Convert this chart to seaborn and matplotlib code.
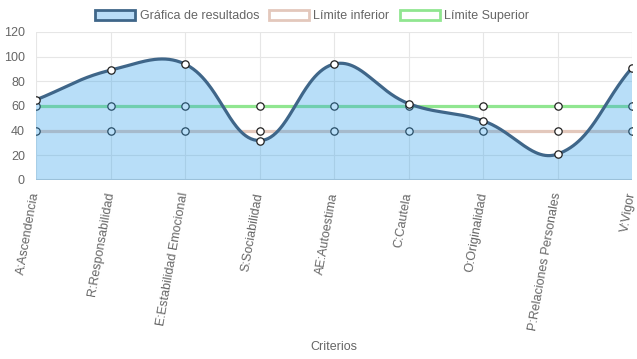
#!/usr/bin/env python3

import numpy as np                  # numeric helpers
import matplotlib
matplotlib.use('Agg')
import matplotlib.pyplot as plt     # visual plotting of data
import seaborn as sns               # visual plotting of data
from matplotlib.patches import Patch


# Chart data
criterios = ['A:Ascendencia', 'R:Responsabilidad', 'E:Estabilidad Emocional',
             'S:Sociabilidad', 'AE:Autoestima', 'C:Cautela', 'O:Originalidad',
             'P:Relaciones Personales', 'V:Vigor']
resultados = [65, 89, 94, 32, 94, 62, 48, 21, 91]
limite_inferior = [40, 40, 40, 40, 40, 40, 40, 40, 40]
limite_superior = [60, 60, 60, 60, 60, 60, 60, 60, 60]

# Colours
LINE_RES = '#3f6689'
FILL_RES = (54 / 255, 162 / 255, 235 / 255, 0.35)
LINE_INF = '#e3c8bc'
LINE_SUP = '#90e690'
GRID = '#e6e6e6'


def spline(xs, ys, sx, sy, tension=0.4, ymin=0, ymax=120, steps=60):
    """
    Bezier curve like the one the web chart draws (tension 0.4),
    control points worked out in pixel space.
    """
    px = np.array(xs, dtype=float) * sx
    py = np.array(ys, dtype=float) * sy
    n = len(px)
    cp_prev, cp_next = [], []
    for i in range(n):
        p0 = (px[i - 1], py[i - 1]) if i > 0 else (px[i], py[i])
        p1 = (px[i], py[i])
        p2 = (px[i + 1], py[i + 1]) if i < n - 1 else (px[i], py[i])
        d01 = np.hypot(p1[0] - p0[0], p1[1] - p0[1])
        d12 = np.hypot(p2[0] - p1[0], p2[1] - p1[1])
        tot = d01 + d12
        s01 = d01 / tot if tot else 0
        s12 = d12 / tot if tot else 0
        fa, fb = tension * s01, tension * s12
        cpp = [p1[0] - fa * (p2[0] - p0[0]), p1[1] - fa * (p2[1] - p0[1])]
        cpn = [p1[0] + fb * (p2[0] - p0[0]), p1[1] + fb * (p2[1] - p0[1])]
        for c in (cpp, cpn):
            c[0] = min(max(c[0], px[0]), px[-1])
            c[1] = min(max(c[1], ymin * sy), ymax * sy)
        cp_prev.append(cpp)
        cp_next.append(cpn)

    t = np.linspace(0, 1, steps)[:, None]
    out = []
    for i in range(n - 1):
        b0 = np.array([px[i], py[i]])
        b1 = np.array(cp_next[i])
        b2 = np.array(cp_prev[i + 1])
        b3 = np.array([px[i + 1], py[i + 1]])
        seg = ((1 - t) ** 3) * b0 + 3 * ((1 - t) ** 2) * t * b1 \
            + 3 * (1 - t) * t ** 2 * b2 + t ** 3 * b3
        out.append(seg if i == 0 else seg[1:])
    curve = np.vstack(out)
    return curve[:, 0] / sx, curve[:, 1] / sy


def plot_chart():
    sns.set_theme(style='white')
    plt.rcParams['font.family'] = ['Liberation Sans', 'DejaVu Sans']

    fig = plt.figure(figsize=(6.37, 3.59), dpi=100)
    ax = fig.add_axes([36 / 637, 1 - 180 / 359, 596 / 637, 148 / 359])

    x = np.arange(len(criterios))

    # Limit lines sit under the filled area
    sns.lineplot(x=x, y=limite_inferior, ax=ax, color=LINE_INF, lw=2.3, zorder=2)
    sns.lineplot(x=x, y=limite_superior, ax=ax, color=LINE_SUP, lw=2.3, zorder=2)
    for vals in (limite_inferior, limite_superior):
        sns.scatterplot(x=x, y=vals, ax=ax, s=28, color='white',
                        edgecolor='#222222', linewidth=0.9, zorder=3)

    # Results curve with fill to zero
    cx, cy = spline(x, resultados, 596 / 8, 148 / 120)
    ax.fill(np.concatenate([cx, [x[-1], x[0]]]),
            np.concatenate([cy, [0, 0]]),
            color=FILL_RES, lw=0, zorder=4)
    ax.plot(cx, cy, color=LINE_RES, lw=2.3, zorder=5, solid_capstyle='round')
    sns.scatterplot(x=x, y=resultados, ax=ax, s=28, color='white',
                    edgecolor='#222222', linewidth=0.9, zorder=6)

    ax.axhline(0, color='#d2d2d2', lw=1.5, zorder=1)

    ax.set_xlim(0, len(criterios) - 1)
    ax.set_ylim(0, 120)
    ax.set_yticks(range(0, 121, 20))
    ax.set_xticks(x)
    ax.set_xticklabels(criterios, rotation=80, ha='right', va='center',
                       rotation_mode='anchor')
    ax.grid(True, color=GRID, lw=0.8)
    ax.set_axisbelow(True)
    for s in ax.spines.values():
        s.set_visible(False)
    ax.tick_params(axis='both', which='both', length=6, width=0.8, color=GRID,
                   labelsize=9, labelcolor='#666666', pad=2)
    ax.tick_params(axis='x', pad=3)
    ax.set_xlabel('')
    ax.set_ylabel('')

    fig.text(334 / 637, 1 - 347 / 359, 'Criterios', ha='center', va='center',
             fontsize=9, color='#666666')

    handles = [
        Patch(facecolor='#b9dcf7', edgecolor=LINE_RES, lw=2),
        Patch(facecolor='white', edgecolor=LINE_INF, lw=2),
        Patch(facecolor='white', edgecolor=LINE_SUP, lw=2),
    ]
    labels = ['Gráfica de resultados', 'Límite inferior', 'Límite Superior']
    fig.legend(handles, labels, loc='center', bbox_to_anchor=(312 / 637, 1 - 16 / 359),
               ncol=3, frameon=False, fontsize=9, handlelength=3.2,
               handleheight=0.95, handletextpad=0.35, columnspacing=0.8,
               labelcolor='#666666', borderaxespad=0)

    plt.savefig('out.png', dpi=100)


if __name__ == '__main__':
    plot_chart()
